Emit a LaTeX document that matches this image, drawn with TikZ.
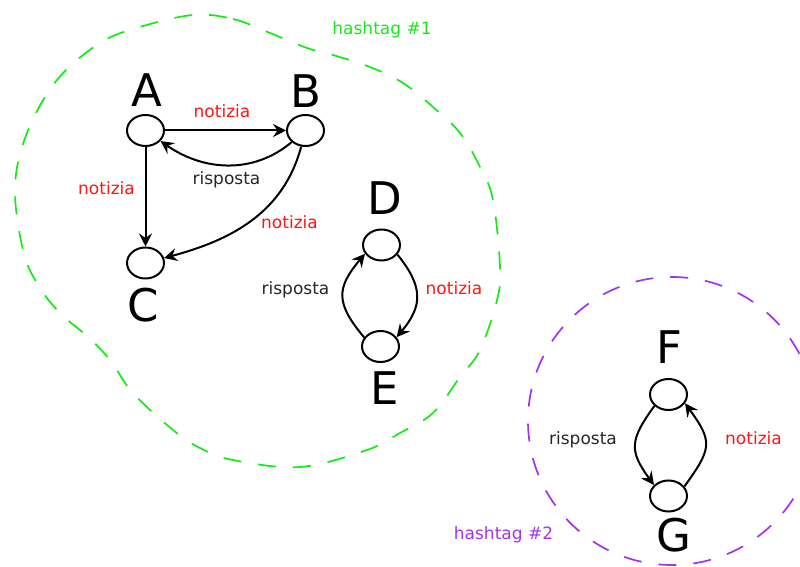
\documentclass[tikz,border=0pt]{standalone}
\usepackage{fontspec}
\setmainfont{DejaVu Sans}
\usepackage{tikz}
\usetikzlibrary{arrows.meta,shapes.geometric}
\newcommand{\bigfont}{\fontsize{45}{50}\selectfont}
\newcommand{\smallfont}{\fontsize{17}{20}\selectfont}
\newcommand{\lw}{2pt}
\definecolor{tagone}{RGB}{20,235,20}
\definecolor{tagtwo}{RGB}{165,50,235}
\definecolor{newsred}{RGB}{255,20,20}

\begin{document}
\begin{tikzpicture}[x=1pt, y=1pt]
    \tikzset{
        vert/.style = {ellipse, draw, line width=\lw, minimum width=37pt, minimum height=31pt, inner sep=0pt},
        letter/.style = {font=\bigfont, inner sep=0pt, anchor=base},
        news/.style = {font=\smallfont, text=newsred, inner sep=0pt, anchor=base},
        reply/.style = {font=\smallfont, text=black!85, inner sep=0pt, anchor=base},
        edge/.style = {line width=\lw, -{Stealth[length=13pt,width=13pt,inset=4.5pt]}},
        tagline/.style = {line width=1.7pt, dash pattern=on 18pt off 17pt}
    }
    \useasboundingbox (0,0) rectangle (800,567);
    %\draw[help lines, step=50] (0,0) grid (800,567);

    % hashtag areas
    \draw[tagline, tagone] plot[smooth cycle, tension=0.6] coordinates {
        (193,552) (233,548) (270,534) (307,519) (333,512) (370,500) (403,484)
        (433,460) (460,434) (480,400) (493,367) (500,300) (497,267) (480,217)
        (460,190) (433,154) (400,134) (367,117) (300,100) (233,107) (200,119)
        (173,137) (133,174) (110,207) (88,230) (60,254) (38,282) (23,317)
        (15,380) (27,434) (57,487) (100,524) (140,540)};
    \draw[tagline, tagtwo] (672,146) circle (144);
    \node[font=\smallfont, text=tagone, anchor=base] (tag1) at (382,532) {hashtag \#1};
    \node[font=\smallfont, text=tagtwo, anchor=base] (tag2) at (503.5,27) {hashtag \#2};

    % vertices
    \foreach \n/\x/\y in {A/145.5/436.5, B/305.5/436.5, C/145.5/304, D/381.5/322,
                          E/380.5/220.5, F/668.5/172.5, G/668.5/71} {
        \node[vert] (\n) at (\x,\y) {};
    }
    \foreach \n/\x/\y in {A/147/460, B/306/459, C/143/245, D/385/352,
                          E/385/162, F/669/203, G/674/15} {
        \node[letter] (l\n) at (\x,\y) {\n};
    }

    % edges
    \draw[edge] (A) -- (B);
    \draw[edge] (B) to[out=220, in=-35] (A);
    \draw[edge] (A) -- (C);
    \draw[edge] (B) to[out=-105, in=15] (C);
    \draw[edge] (D.-31) to[out=-51, in=50, looseness=1.27] (E.30);
    \draw[edge] (E.151) to[out=130, in=-130, looseness=1.37] (D.-152);
    \draw[edge] (F.-141) to[out=-126, in=126, looseness=1.37] (G.143);
    \draw[edge] (G.31) to[out=54, in=-54, looseness=1.45] (F.-28);

    % edge labels
    \node[news] (nAB) at (222,449) {notizia};
    \node[reply] (rBA) at (226.5,382) {risposta};
    \node[news] (nAC) at (106.5,372) {notizia};
    \node[news] (nBC) at (289.5,338) {notizia};
    \node[news] (nDE) at (454,272) {notizia};
    \node[reply] (rED) at (295.5,272) {risposta};
    \node[news] (nGF) at (753.5,122.7) {notizia};
    \node[reply] (rFG) at (583,122.7) {risposta};
\end{tikzpicture}
\end{document}
